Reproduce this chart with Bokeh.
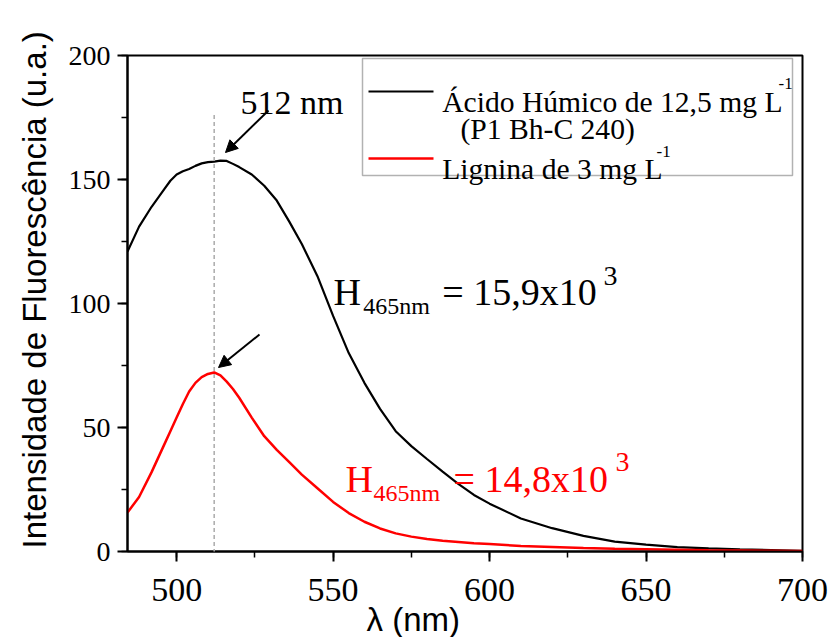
import math
from bokeh.plotting import figure
from bokeh.models import (Range1d, SingleIntervalTicker, Label, Title,
                          Arrow, NormalHead, BoxAnnotation)
from bokeh.embed import file_html
from bokeh.resources import INLINE

# ---------------- data ----------------
wavelength = [484.3, 488, 492, 496, 498, 500, 502, 504, 506, 508, 510, 512,
              514, 516, 518, 520, 524, 528, 532, 536, 540, 545, 550, 555,
              560, 565, 570, 575, 580, 585, 590, 595, 600, 610, 620, 630,
              640, 650, 660, 670, 680, 690, 700]
humic_intensity = [121, 131, 139, 146, 149.5, 152, 153.3, 154.2, 155.5,
                   156.5, 157, 157.2, 157.6, 157.5, 156.3, 155, 152, 147.5,
                   141.5, 133, 124, 111, 95, 80, 68, 57.5, 48.5, 42.5, 37.3,
                   32.2, 27.3, 22.8, 19.3, 13.3, 9.4, 6.3, 4.0, 2.8, 1.8,
                   1.3, 0.9, 0.6, 0.3]
lignin_intensity = [15.7, 22, 32, 43, 48.5, 54, 59.5, 64.5, 68, 70.3, 71.6,
                    72.2, 71, 68.5, 65.5, 62, 54, 46.5, 41, 36, 31, 25.5, 20,
                    15.5, 12, 9.3, 7.3, 6, 5, 4.3, 3.8, 3.3, 3, 2.2, 1.8, 1.4,
                    1.1, 0.9, 0.7, 0.5, 0.4, 0.3, 0.2]
peak_nm = 512
peak_line_top = 176
humic_label = "Ácido Húmico de 12,5 mg L"
humic_label2 = "(P1 Bh-C 240)"
lignin_label = "Lignina de 3 mg L"
humic_H = "= 15,9x10"
lignin_H = "= 14,8x10"
x_label = "λ (nm)"
y_label = "Intensidade de Fluorescência (u.a.)"

X_MIN, X_MAX = 484.3, 700
Y_MIN, Y_MAX = 0, 200

W, H = 831, 637
# frame placement in page pixels
FL, FR, FT, FB = 127, 802, 55, 551


def dx(px):
    return X_MIN + (px - FL) * (X_MAX - X_MIN) / (FR - FL)


def dy(py):
    return Y_MIN + (FB - py) * (Y_MAX - Y_MIN) / (FB - FT)


SERIF = "Liberation Serif"
SANS = "Liberation Sans"

p = figure(width=W, height=H, output_backend="svg", toolbar_location=None,
           x_range=Range1d(X_MIN, X_MAX), y_range=Range1d(Y_MIN, Y_MAX),
           min_border_left=FL, min_border_right=W - FR,
           min_border_top=FT, min_border_bottom=H - FB,
           title=None)
p.grid.visible = False
p.background_fill_color = "white"
p.border_fill_color = "white"
p.outline_line_color = "black"
p.outline_line_width = 2

xa = p.xaxis[0]
ya = p.yaxis[0]
xa.ticker = SingleIntervalTicker(interval=50, num_minor_ticks=2)
ya.ticker = SingleIntervalTicker(interval=50, num_minor_ticks=2)
for ax in (xa, ya):
    ax.axis_line_width = 2
    ax.major_tick_line_width = 2
    ax.minor_tick_line_width = 1.5
    ax.major_tick_out = 10
    ax.major_tick_in = 0
    ax.minor_tick_out = 6
    ax.minor_tick_in = 0
    ax.major_label_text_font = SERIF
    ax.major_label_text_color = "black"
    ax.axis_line_color = "black"
    ax.major_tick_line_color = "black"
    ax.minor_tick_line_color = "black"
xa.major_label_text_font_size = "34px"
xa.major_label_standoff = 17
ya.major_label_text_font_size = "28px"
ya.major_label_standoff = 7

# axis titles (as titles so they are not clipped to the frame)
xt = Title(text=x_label, align="left", standoff=-10, offset=239)
xt.text_font = SANS
xt.text_font_size = "33px"
xt.text_font_style = "normal"
xt.text_color = "black"
p.add_layout(xt, "below")

yt = Title(text=y_label, align="left", standoff=26, offset=3)
yt.text_font = SANS
yt.text_font_size = "33px"
yt.text_font_style = "normal"
yt.text_color = "black"
p.add_layout(yt, "left")

# peak marker line
p.add_layout(Arrow(x_start=peak_nm, y_start=peak_line_top, x_end=peak_nm,
                   y_end=dy(568), end=None, line_color="#aaaaaa",
                   line_width=1.5, line_dash="4 3"))

p.line(wavelength, humic_intensity, line_color="black", line_width=2.2)
p.line(wavelength, lignin_intensity, line_color="#ff0000", line_width=2.5)

# annotation arrows
head = dict(size=12, fill_color="black", line_color="black")
p.add_layout(Arrow(x_start=dx(268), y_start=dy(110), x_end=dx(225),
                   y_end=dy(152), end=NormalHead(**head), line_width=2))
p.add_layout(Arrow(x_start=dx(259), y_start=dy(334), x_end=dx(218),
                   y_end=dy(367), end=NormalHead(**head), line_width=2))


def lab(x, y, text, size, color="black", font=SERIF, **kw):
    p.add_layout(Label(x=dx(x), y=dy(y), text=text, text_font=font,
                       text_font_size=size, text_color=color,
                       text_baseline=kw.pop("baseline", "alphabetic"),
                       text_align=kw.pop("align", "left"), **kw))


lab(240, 101.7, f"{peak_nm} nm", "34px")

# H values
lab(333, 291.7, "H", "38px")
lab(362.7, 305, "465nm", "24px")
lab(441.7, 291.7, humic_H, "38px")
lab(603, 275, "3", "28px")

lab(345, 478.3, "H", "38px", "#ff0000")
lab(373, 492, "465nm", "24px", "#ff0000")
lab(453, 478.3, lignin_H, "38px", "#ff0000")
lab(615, 461.5, "3", "28px", "#ff0000")

# legend
p.add_layout(BoxAnnotation(left=dx(362), right=dx(792), top=dy(58),
                           bottom=dy(175), fill_color="white", fill_alpha=1,
                           line_color="black", line_width=1.5))
p.add_layout(Arrow(x_start=dx(368), y_start=dy(91), x_end=dx(433),
                   y_end=dy(91), end=None, line_color="black", line_width=2))
p.add_layout(Arrow(x_start=dx(368), y_start=dy(158), x_end=dx(433),
                   y_end=dy(158), end=None, line_color="#ff0000", line_width=2.5))
lab(441.7, 101.7, humic_label, "29.6px")
lab(778, 83, "-1", "17px")
lab(460, 128, humic_label2, "29.6px")
lab(441.7, 168, lignin_label, "29.6px")
lab(656, 151, "-1", "17px")

open("out.html", "w").write(file_html(p, INLINE))
